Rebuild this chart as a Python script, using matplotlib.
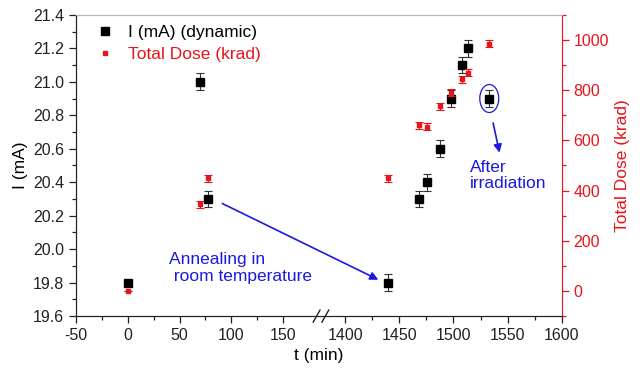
import matplotlib
matplotlib.use('Agg')
import matplotlib.pyplot as plt
import numpy as np
from matplotlib.lines import Line2D
from matplotlib.patches import Ellipse

plt.rcParams.update({
    "font.family": ["Liberation Sans", "DejaVu Sans"],
    "font.size": 11.5,
    "axes.unicode_minus": False,
})

# data
t_I = [0, 70, 78, 1440, 1468, 1476, 1488, 1498, 1508, 1513, 1533]
I_mA = [19.80, 21.00, 20.30, 19.80, 20.30, 20.40, 20.60, 20.90, 21.10, 21.20, 20.90]
I_err = [0.01, 0.05, 0.05, 0.05, 0.05, 0.05, 0.05, 0.05, 0.05, 0.05, 0.05]

t_D = [0, 70, 78, 1440, 1468, 1476, 1488, 1498, 1508, 1513, 1533]
dose = [0, 345, 450, 450, 660, 655, 735, 790, 843, 870, 985]
dose_err = [0, 14, 14, 14, 14, 14, 14, 14, 14, 14, 14]

# broken x axis: [-50, 185] | [1376, 1600]
L, R = 185.0, 1376.0


def fwd(t):
    t = np.asarray(t, dtype=float)
    return np.where(t < (L + R) / 2, (t + 50) / (L + 50) * 0.5,
                    0.5 + (t - R) / (1600 - R) * 0.5)


def inv(u):
    u = np.asarray(u, dtype=float)
    return np.where(u < 0.5, -50 + u * 2 * (L + 50),
                    R + (u - 0.5) * 2 * (1600 - R))


red = '#e8141b'
blue = '#1a1ae0'

fig = plt.figure(figsize=(6.4, 3.71), dpi=100)
ax = fig.add_axes([0.119, 0.148, 0.759, 0.812])
ax.set_xscale('function', functions=(fwd, inv))
ax.set_xlim(-50, 1600)
ax.set_ylim(19.6, 21.4)

ax.errorbar(t_I, I_mA, yerr=I_err, fmt='s', color='black', ms=6,
            ecolor='#333333', elinewidth=0.8, capsize=3, capthick=0.8, zorder=3)

ax.set_xticks([-50, 0, 50, 100, 150, 1400, 1450, 1500, 1550, 1600])
ax.set_xticks([-25, 25, 75, 125, 1425, 1475, 1525, 1575], minor=True)
ax.set_yticks(np.arange(19.6, 21.41, 0.2))
ax.set_yticks(np.arange(19.7, 21.4, 0.2), minor=True)
ax.yaxis.set_major_formatter(matplotlib.ticker.FormatStrFormatter('%.1f'))
ax.tick_params(which='major', direction='out', length=5, width=0.9, colors='#222222')
ax.tick_params(which='minor', direction='out', length=3, width=0.9, colors='#222222')
ax.tick_params(axis='y', which='both', right=False)
ax.tick_params(axis='x', which='both', top=False)
ax.set_xlabel('t (min)', fontsize=12.5)
ax.set_ylabel('I (mA)', fontsize=12.5)

ax2 = ax.twinx()
ax2.errorbar(t_D, dose, yerr=dose_err, fmt='s', color=red, ms=3.5,
             ecolor=red, elinewidth=0.8, capsize=3, capthick=0.8)
ax2.set_ylim(-100, 1100)
ax2.set_yticks([0, 200, 400, 600, 800, 1000])
ax2.set_yticks([-100, 100, 300, 500, 700, 900, 1100], minor=True)
ax2.tick_params(which='major', direction='out', length=5, width=0.9, colors=red)
ax2.tick_params(which='minor', direction='out', length=3, width=0.9, colors=red)
ax2.set_ylabel('Total Dose (krad)', color=red, fontsize=12.5)

for a in (ax, ax2):
    a.spines['top'].set_color('#b5b5b5')
    a.spines['top'].set_linewidth(0.8)
    a.spines['left'].set_color('#222222')
    a.spines['bottom'].set_color('#222222')
    a.spines['right'].set_color(red)
ax.spines['right'].set_visible(False)

# break marks on the x axis
for dx in (-0.012, 0.006):
    ax.plot([0.5 + dx, 0.5 + dx + 0.014], [-0.02, 0.02], transform=ax.transAxes,
            color='#222222', lw=1.0, clip_on=False, zorder=5)

# annotations
ax.annotate('', xy=(1433, 19.81), xytext=(89, 20.28),
            arrowprops=dict(arrowstyle='-|>', color=blue, lw=1.2, mutation_scale=12))
ax.annotate('', xy=(1543, 20.56), xytext=(1536, 20.77),
            arrowprops=dict(arrowstyle='-|>', color=blue, lw=1.2, mutation_scale=12))
ax.add_patch(Ellipse((1533, 20.9), 17.5, 0.167, fill=False, edgecolor=blue, lw=0.9))
ax.text(40, 19.98, 'Annealing in\n room temperature', color=blue, fontsize=12.5,
        ha='left', va='top', linespacing=1.15)
ax.text(1515, 20.535, 'After\nirradiation', color=blue, fontsize=12.5,
        ha='left', va='top', linespacing=1.15)

handles = [Line2D([], [], ls='none', marker='s', color='black', ms=6),
           Line2D([], [], ls='none', marker='s', color=red, ms=3.5)]
leg = ax.legend(handles, ['I (mA) (dynamic)', 'Total Dose (krad)'], loc='upper left',
                bbox_to_anchor=(0.0, 1.018), frameon=False, fontsize=12.5,
                handletextpad=0.6, labelspacing=0.37, handlelength=1.5)
leg.get_texts()[1].set_color(red)
leg.set_zorder(10)

fig.savefig('out.png', dpi=100)
